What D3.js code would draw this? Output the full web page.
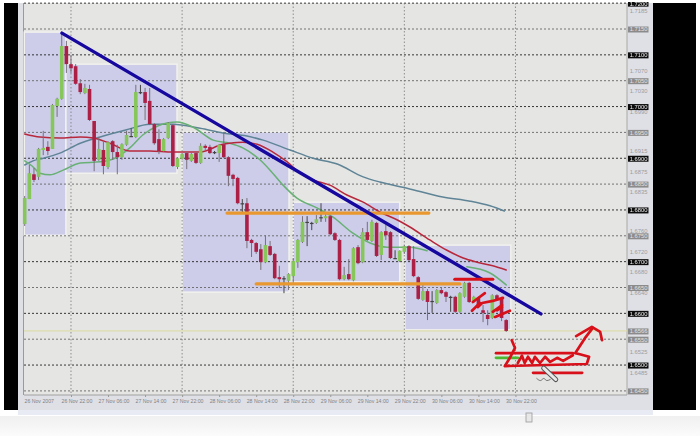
<!DOCTYPE html>
<html><head><meta charset="utf-8">
<script src="https://d3js.org/d3.v7.min.js"></script>
<style>
html,body{margin:0;padding:0;background:#fff;overflow:hidden}
svg{display:block;filter:blur(0.5px)}
text{font-family:"Liberation Sans",Arial,sans-serif}
</style></head><body>
<svg id="c" width="700" height="436"></svg>
<script>
const opens=[1.6773,1.6821,1.6869,1.6864,1.6916,1.6922,1.6918,1.7001,1.7015,1.7117,1.7082,1.7078,1.7045,1.7026,1.7034,1.6972,1.6897,1.6916,1.6883,1.6933,1.6912,1.6902,1.6926,1.6943,1.6941,1.7026,1.7028,1.7011,1.6966,1.6937,1.6914,1.6939,1.6964,1.6883,1.6899,1.6910,1.6895,1.6910,1.6891,1.6924,1.6922,1.6912,1.6910,1.6927,1.6902,1.6868,1.6862,1.6813,1.6813,1.6742,1.6736,1.6724,1.6699,1.6730,1.6715,1.6670,1.6668,1.6663,1.6672,1.6699,1.6738,1.6777,1.6775,1.6775,1.6784,1.6784,1.6788,1.6755,1.6742,1.6666,1.6676,1.6664,1.6728,1.6699,1.6757,1.6740,1.6775,1.6713,1.6759,1.6757,1.6707,1.6701,1.6719,1.6730,1.6705,1.6670,1.6626,1.6643,1.6624,1.6620,1.6645,1.6641,1.6632,1.6632,1.6603,1.6632,1.6659,1.6622,1.6630,1.6606,1.6597,1.6591,1.6635,1.6630,1.6587];
const highs=[1.6827,1.6887,1.6881,1.6920,1.6953,1.6933,1.7005,1.7017,1.7142,1.7127,1.7100,1.7082,1.7053,1.7044,1.7042,1.6972,1.6941,1.6935,1.6933,1.6935,1.6926,1.6929,1.6953,1.6958,1.7042,1.7042,1.7036,1.7036,1.6968,1.6956,1.6939,1.6970,1.6966,1.6902,1.6910,1.6912,1.6910,1.6912,1.6929,1.6927,1.6926,1.6914,1.6927,1.6951,1.6904,1.6870,1.6864,1.6821,1.6823,1.6744,1.6738,1.6734,1.6751,1.6740,1.6717,1.6692,1.6672,1.6678,1.6707,1.6744,1.6788,1.6788,1.6777,1.6790,1.6813,1.6796,1.6790,1.6757,1.6744,1.6690,1.6705,1.6728,1.6732,1.6765,1.6777,1.6781,1.6777,1.6759,1.6771,1.6759,1.6722,1.6722,1.6732,1.6732,1.6730,1.6672,1.6655,1.6647,1.6643,1.6647,1.6651,1.6643,1.6634,1.6634,1.6641,1.6661,1.6661,1.6634,1.6632,1.6616,1.6606,1.6637,1.6637,1.6632,1.6589];
const lows=[1.6769,1.6821,1.6854,1.6858,1.6906,1.6906,1.6918,1.6980,1.7013,1.7065,1.7065,1.7042,1.7024,1.7024,1.6972,1.6875,1.6895,1.6869,1.6879,1.6897,1.6869,1.6897,1.6924,1.6941,1.6939,1.7024,1.6974,1.6964,1.6926,1.6908,1.6912,1.6937,1.6883,1.6879,1.6897,1.6879,1.6893,1.6889,1.6889,1.6916,1.6908,1.6908,1.6893,1.6900,1.6846,1.6846,1.6811,1.6796,1.6726,1.6709,1.6715,1.6684,1.6697,1.6711,1.6666,1.6649,1.6639,1.6645,1.6659,1.6688,1.6736,1.6730,1.6761,1.6773,1.6777,1.6777,1.6751,1.6740,1.6664,1.6664,1.6664,1.6662,1.6695,1.6697,1.6740,1.6738,1.6709,1.6703,1.6742,1.6705,1.6705,1.6699,1.6715,1.6701,1.6670,1.6626,1.6624,1.6587,1.6601,1.6618,1.6637,1.6622,1.6603,1.6601,1.6601,1.6630,1.6620,1.6620,1.6614,1.6583,1.6577,1.6589,1.6624,1.6585,1.6564];
const closes=[1.6823,1.6871,1.6858,1.6918,1.6920,1.6914,1.7003,1.7015,1.7117,1.7082,1.7074,1.7044,1.7028,1.7036,1.6974,1.6895,1.6918,1.6885,1.6931,1.6912,1.6902,1.6927,1.6945,1.6941,1.7028,1.7028,1.7007,1.6966,1.6929,1.6914,1.6937,1.6968,1.6885,1.6900,1.6908,1.6897,1.6908,1.6891,1.6924,1.6920,1.6910,1.6910,1.6926,1.6902,1.6866,1.6860,1.6813,1.6811,1.6740,1.6736,1.6719,1.6699,1.6732,1.6713,1.6668,1.6666,1.6666,1.6676,1.6701,1.6742,1.6777,1.6775,1.6773,1.6782,1.6786,1.6788,1.6753,1.6742,1.6666,1.6674,1.6666,1.6726,1.6697,1.6757,1.6742,1.6777,1.6711,1.6757,1.6751,1.6707,1.6705,1.6721,1.6730,1.6703,1.6672,1.6628,1.6643,1.6622,1.6622,1.6645,1.6639,1.6632,1.6630,1.6603,1.6639,1.6659,1.6622,1.6632,1.6616,1.6601,1.6589,1.6635,1.6626,1.6591,1.6566];

const maRed=[[0,1.6947],[3.3,1.6941],[7.6,1.6939],[12,1.6941],[14.8,1.6939],[18.4,1.6929],[22.7,1.6914],[27,1.6914],[32,1.6912],[37.9,1.6912],[42.8,1.6927],[44.3,1.6929],[47.1,1.6931],[50.2,1.6927],[53.6,1.6912],[56.7,1.6893],[59.5,1.6871],[62.3,1.6858],[65.9,1.6848],[69.6,1.6829],[73.1,1.6815],[76.7,1.6796],[80.4,1.6781],[83.2,1.6767],[87.5,1.6742],[91.2,1.6722],[94.7,1.6707],[97.7,1.6699],[101.1,1.6692],[104,1.6684]];
const maSlate=[[0,1.6887],[1.8,1.6895],[4,1.6900],[7.6,1.6910],[12,1.6929],[16.3,1.6941],[22,1.6955],[27,1.6966],[32,1.6966],[37.9,1.6958],[42.8,1.6949],[48,1.6943],[51.5,1.6935],[57.3,1.6916],[62.3,1.6900],[67.5,1.6889],[73.1,1.6864],[76.7,1.6854],[82.6,1.6842],[90.3,1.6825],[96.2,1.6817],[100.5,1.6808],[103.6,1.6798]];
const maGreenA=[[0,1.6895],[1.6,1.6885],[3.3,1.6871],[5.5,1.6868],[8.3,1.6877],[12,1.6891],[16.3,1.6893],[19.9,1.6902],[22.7,1.6920],[25.5,1.6945],[28.6,1.6962],[32.9,1.6970],[36.4,1.6960],[40.7,1.6935],[44.3,1.6929],[47.1,1.6920],[50.8,1.6897],[53,1.6877],[55.8,1.6848],[58.8,1.6823],[63.1,1.6804],[66.6,1.6786],[70.9,1.6755],[74.6,1.6736],[78.3,1.6728],[83.2,1.6728],[86.9,1.6721]];
const maGreenB=[[95.5,1.6690],[100.5,1.6678],[104,1.6655]];

const sessionBoxes=[[-0.1,8.9,1.7144,1.6751],[8.9,32.9,1.7082,1.6871],[34,57.1,1.6951,1.6641],[58,81,1.6815,1.6661],[82.1,105,1.6732,1.6568]];
const trendLine=[[8.05,1.7142],[111.5,1.6599]];
const orangeLines=[[[43.7,1.6794],[87.3,1.6794]],[[50,1.6657],[94,1.6657]]];
const horizontalLevel=1.6566;
const redStrokes=[
 [[92.9,1.6666],[101.1,1.6666]],
 [[96.8,1.6622],[99.4,1.6639]],
 [[96.6,1.6605],[98.3,1.6620],[97.9,1.6612],[98.8,1.6620],[101.1,1.6624],[103.3,1.6630]],
 [[101.1,1.6603],[103.1,1.6616],[102,1.6606],[103.1,1.6612]],
 [[101.6,1.6593],[104.8,1.6605]],
 [[101.8,1.6523],[118.4,1.6523]],
 [[105.2,1.6548],[105.9,1.6533],[104.8,1.6514],[103.7,1.6498],[121.4,1.6502],[121.9,1.6516],[119.9,1.6521],[118.9,1.6523],[121,1.6552],[122.7,1.6572]],
 [[119.1,1.6556],[122.5,1.6574],[124.3,1.6564],[124.7,1.6548]],
 [[106.5,1.6504],[107.4,1.6518],[108,1.6504],[108.7,1.6516],[109.6,1.6504],[110.2,1.6516],[111.3,1.6504],[112.4,1.6516],[113.5,1.6506],[115,1.6514],[116.3,1.6508],[118.4,1.6519]],
 [[109.8,1.6485],[120.4,1.6485]]
];
const greenStroke=[[101.8,1.6514],[106.5,1.6514]];
const cursorStroke=[[112.1,1.6494],[114.7,1.6472]];
const cursorTail=[[110.6,1.6474],[111.4,1.6470],[112.1,1.6474],[112.8,1.6470],[113.5,1.6472]];

const boxedMajor=[1.72,1.71,1.70,1.69,1.68,1.67,1.66,1.65];
const boxedMinor=[1.715,1.705,1.695,1.685,1.675,1.665,1.6566,1.655,1.645];
const plainTicks=[1.7185,1.7070,1.7030,1.6990,1.6915,1.6875,1.6835,1.6760,1.6720,1.6680,1.6640,1.6525,1.6485];
const gridPrices=d3.range(0,16).map(i=>+(1.72-i*0.005).toFixed(3));

const startHour=Date.UTC(2007,10,26,12);
const dateAt=h=>new Date(startHour+h*3600e3);
const timeTicksH=[10,18,26,34,42,50,58,66,74,82,90,98,106];
const vGridH=[10,34,58,82,106];
const timeFmt=d3.utcFormat("%d %b %H:%M");

const x=d3.scaleUtc().domain([dateAt(0),dateAt(104)]).range([24.7,506.2]);
const y=d3.scaleLinear().domain([1.72,1.645]).range([3.15,390.9]);
const svg=d3.select("#c");
const L=24,R=627,B=395,T=3;

const defs=svg.append("defs");
const lg=defs.append("linearGradient").attr("id","foot").attr("x1",0).attr("x2",0).attr("y1",0).attr("y2",1);
lg.append("stop").attr("offset",0).attr("stop-color","#f0f0f0");
lg.append("stop").attr("offset",1).attr("stop-color","#fbfbfb");
defs.append("clipPath").attr("id","top").append("rect").attr("x",0).attr("y",2).attr("width",700).attr("height",410);

// window chrome
svg.append("rect").attr("x",0).attr("y",416).attr("width",700).attr("height",20).attr("fill","url(#foot)");
svg.append("rect").attr("x",18).attr("y",T).attr("width",635).attr("height",408).attr("fill","#dfe0e6");
svg.append("rect").attr("x",18).attr("y",410).attr("width",635).attr("height",5).attr("fill","#e8eaf4");
svg.append("rect").attr("x",4).attr("y",T).attr("width",14).attr("height",407).attr("fill","#000");
svg.append("rect").attr("x",653).attr("y",T).attr("width",43).attr("height",407).attr("fill","#000");
svg.append("rect").attr("x",526).attr("y",413).attr("width",6).attr("height",9).attr("fill","#e8e8e8").attr("stroke","#999").attr("stroke-width",.8);

// plot area
svg.append("rect").attr("x",L).attr("y",T).attr("width",R-L).attr("height",B-T).attr("fill","#e5e5e4");
svg.append("line").attr("x1",L-.5).attr("x2",L-.5).attr("y1",T).attr("y2",B).attr("stroke","#9a9a9a");
svg.append("line").attr("x1",R).attr("x2",R).attr("y1",T).attr("y2",B).attr("stroke","#a8a8a8");
svg.append("line").attr("x1",L).attr("x2",R).attr("y1",B).attr("y2",B).attr("stroke","#a0a0a0");

// session boxes
svg.append("g").selectAll("rect").data(sessionBoxes).join("rect")
 .attr("x",d=>x(dateAt(d[0]))).attr("width",d=>x(dateAt(d[1]))-x(dateAt(d[0])))
 .attr("y",d=>y(d[2])).attr("height",d=>y(d[3])-y(d[2]))
 .attr("fill","#cdcdea").attr("stroke","#f1f1ee").attr("stroke-width",1.5);

// grid
svg.append("g").selectAll("line").data(gridPrices).join("line")
 .attr("x1",L).attr("x2",R).attr("y1",d=>y(d)).attr("y2",d=>y(d))
 .attr("stroke",d=>Math.round(d*1000)%10===0?"#222":"#666")
 .attr("stroke-width",.9).attr("stroke-dasharray","2 2");
svg.append("g").selectAll("line").data(vGridH).join("line")
 .attr("x1",d=>x(dateAt(d))).attr("x2",d=>x(dateAt(d))).attr("y1",T).attr("y2",B)
 .attr("stroke","#777").attr("stroke-width",.8).attr("stroke-dasharray","1.5 2");
svg.append("line").attr("x1",L).attr("x2",R).attr("y1",y(horizontalLevel)).attr("y2",y(horizontalLevel))
 .attr("stroke","#dcdcae").attr("stroke-width",1.2);

// moving averages
const ln=d3.line().x(d=>x(dateAt(d[0]))).y(d=>y(d[1])).curve(d3.curveMonotoneX);
const straight=d3.line().x(d=>x(dateAt(d[0]))).y(d=>y(d[1]));
const drawLine=(g,data,col,w,gen)=>g.append("path").attr("d",(gen||ln)(data)).attr("fill","none").attr("stroke",col).attr("stroke-width",w).attr("stroke-linejoin","round").attr("stroke-linecap","round");
const maG=svg.append("g");
drawLine(maG,maSlate,"#5f8496",1.5);
drawLine(maG,maGreenA,"#68b074",1.5);
drawLine(maG,maGreenB,"#68b074",1.5);
drawLine(maG,maRed,"#b8283c",1.5);

// candles
const idx=d3.range(opens.length);
const isDoji=i=>Math.abs(opens[i]-closes[i])<=0.00021;
const g=svg.append("g");
g.selectAll("line").data(idx).join("line")
 .attr("x1",i=>x(dateAt(i))).attr("x2",i=>x(dateAt(i)))
 .attr("y1",i=>y(highs[i])).attr("y2",i=>y(lows[i]))
 .attr("stroke",i=>isDoji(i)?"#444":"#77707a").attr("stroke-width",1);
g.selectAll("rect").data(idx).join("rect")
 .attr("x",i=>x(dateAt(i))-1.8).attr("width",3.6)
 .attr("y",i=>y(Math.max(opens[i],closes[i])))
 .attr("height",i=>Math.max(1.2,Math.abs(y(opens[i])-y(closes[i]))))
 .attr("fill",i=>isDoji(i)?"#444":closes[i]>opens[i]?"#86c65a":"#ad2046");

// drawn annotations
const an=svg.append("g");
orangeLines.forEach(o=>drawLine(an,o,"#e8982e",3.2,straight));
drawLine(an,trendLine,"#16089e",3.4,straight);
drawLine(an,greenStroke,"#4cb830",2.8,straight);
redStrokes.forEach((s,i)=>drawLine(an,s,"#d8101a",i===0?3.2:2.7,straight));
drawLine(an,cursorStroke,"#555",5,straight);
drawLine(an,cursorStroke,"#e8e8e8",3,straight);
drawLine(an,cursorTail,"#555",.8);

// price axis
const boxTick=(vals,fill,txt)=>{
 const a=svg.append("g").attr("clip-path","url(#top)").append("g").attr("transform",`translate(${R},0)`)
  .call(d3.axisRight(y).tickValues(vals).tickFormat(d3.format(".4f")).tickSize(0));
 a.select(".domain").remove();
 a.selectAll(".tick").insert("rect","text").attr("x",1).attr("y",-3).attr("width",20.5).attr("height",6).attr("fill",fill);
 a.selectAll("text").attr("x",11.5).attr("text-anchor","middle").attr("font-size",5.8).attr("font-family",null).attr("fill",txt);
};
boxTick(plainTicks,"none","#9c9ca0");
boxTick(boxedMinor,"#8b8b8b","#e4e4e4");
boxTick(boxedMajor,"#0c0c0c","#f0f0f0");

// time axis
const ax=svg.append("g").attr("transform",`translate(0,${B})`)
 .call(d3.axisBottom(x).tickValues(timeTicksH.map(dateAt)).tickFormat(timeFmt).tickSize(2));
ax.select(".domain").remove();
ax.selectAll("line").attr("stroke","#999");
ax.selectAll("text").attr("x",-10).attr("y",4).attr("dy","0.7em").attr("text-anchor","start").attr("font-size",5.2).attr("font-family",null).attr("fill","#808084");
svg.append("text").attr("x",24.5).attr("y",403).attr("font-size",5.2).attr("fill","#808084").text("26 Nov 2007");
</script>
</body></html>
